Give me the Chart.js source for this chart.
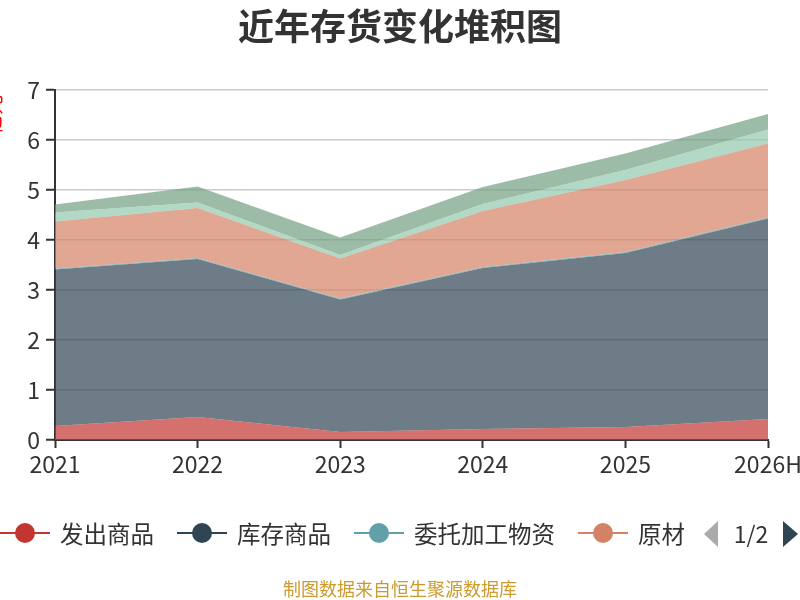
<!DOCTYPE html>
<html>
<head>
<meta charset="utf-8">
<script src="https://cdn.jsdelivr.net/npm/chart.js@4.4.1/dist/chart.umd.min.js"></script>
<style>
  html, body { margin: 0; padding: 0; background: #fff; }
  #wrap { width: 800px; height: 600px; }
</style>
</head>
<body>
<div id="wrap"><canvas id="chart" width="800" height="600"></canvas></div>
<script>
const FONT = '"Noto Sans CJK SC", "Noto Sans", sans-serif';

const years = ['2021', '2022', '2023', '2024', '2025', '2026H'];
const seriesNames = ['发出商品', '库存商品', '委托加工物资', '原材料', '周转材料', '在产品'];
const seriesColors = ['#c23531', '#2f4554', '#61a0a8', '#d48265', '#91c7ae', '#749f83'];

// 亿元
const fachu = [0.28, 0.46, 0.16, 0.22, 0.26, 0.42];
const kucun = [3.13, 3.16, 2.65, 3.22, 3.48, 4.01];
const weituo = [0.02, 0.02, 0.02, 0.02, 0.02, 0.02];
const yuancailiao = [0.94, 1.00, 0.80, 1.12, 1.44, 1.48];
const zhouzhuan = [0.18, 0.11, 0.07, 0.14, 0.20, 0.28];
const zaichan = [0.16, 0.32, 0.35, 0.34, 0.33, 0.31];

const yTicks = [0, 1, 2, 3, 4, 5, 6, 7];

const seriesValues = [fachu, kucun, weituo, yuancailiao, zhouzhuan, zaichan];

function hexAlpha(hex, a) {
  const n = parseInt(hex.slice(1), 16);
  return `rgba(${(n >> 16) & 255}, ${(n >> 8) & 255}, ${n & 255}, ${a})`;
}

const datasets = seriesValues.map((vals, i) => ({
  label: seriesNames[i],
  data: vals,
  borderColor: seriesColors[i],
  backgroundColor: hexAlpha(seriesColors[i], 0.7),
  borderWidth: 0,
  pointRadius: 0,
  pointHoverRadius: 0,
  tension: 0,
  fill: i === 0 ? 'origin' : '-1'
}));

// title, y-axis name, paged legend and footer source line
const decorations = {
  id: 'decorations',
  afterDraw(chart) {
    const ctx = chart.ctx;
    ctx.save();

    ctx.fillStyle = '#333';
    ctx.font = `bold 36px ${FONT}`;
    ctx.textAlign = 'center';
    ctx.textBaseline = 'middle';
    ctx.fillText('近年存货变化堆积图', 400, 26);

    // y axis name, mostly off the left edge
    ctx.save();
    ctx.translate(-7, 115);
    ctx.rotate(-Math.PI / 2);
    ctx.fillStyle = '#ff0000';
    ctx.font = `20px ${FONT}`;
    ctx.fillText('亿元', 0, 0);
    ctx.restore();

    // legend page 1
    ctx.save();
    ctx.beginPath();
    ctx.rect(0, 505, 684, 60);
    ctx.clip();
    ctx.font = `23.5px ${FONT}`;
    ctx.textAlign = 'left';
    const ly = 533;
    let x = 0;
    chart.data.datasets.slice(0, 4).forEach(ds => {
      ctx.strokeStyle = ds.borderColor;
      ctx.lineWidth = 2;
      ctx.beginPath();
      ctx.moveTo(x, ly);
      ctx.lineTo(x + 50, ly);
      ctx.stroke();
      ctx.fillStyle = ds.borderColor;
      ctx.beginPath();
      ctx.arc(x + 25, ly, 10, 0, Math.PI * 2);
      ctx.fill();
      ctx.fillStyle = '#333';
      ctx.fillText(ds.label, x + 60, ly + 1);
      x += 60 + ctx.measureText(ds.label).width + 23;
    });
    ctx.restore();

    // pager
    ctx.fillStyle = '#aaa';
    ctx.beginPath();
    ctx.moveTo(718, 521);
    ctx.lineTo(718, 547);
    ctx.lineTo(704, 534);
    ctx.closePath();
    ctx.fill();
    ctx.fillStyle = '#2f4554';
    ctx.beginPath();
    ctx.moveTo(783, 521);
    ctx.lineTo(783, 547);
    ctx.lineTo(798, 534);
    ctx.closePath();
    ctx.fill();
    ctx.fillStyle = '#333';
    ctx.font = `23px ${FONT}`;
    ctx.textAlign = 'center';
    ctx.fillText('1/2', 751, 534);

    ctx.fillStyle = '#cc9a2e';
    ctx.font = `18px ${FONT}`;
    ctx.fillText('制图数据来自恒生聚源数据库', 400, 589);

    ctx.restore();
  }
};

new Chart(document.getElementById('chart'), {
  type: 'line',
  data: { labels: years, datasets },
  plugins: [decorations],
  options: {
    responsive: false,
    animation: false,
    layout: { padding: { top: 90, right: 32, bottom: 0, left: 0 } },
    plugins: {
      legend: { display: false },
      title: { display: false },
      tooltip: { enabled: false }
    },
    scales: {
      x: {
        offset: false,
        grid: { drawOnChartArea: false, drawTicks: true, tickLength: 8, tickColor: '#333', tickWidth: 2 },
        border: { color: '#333', width: 2 },
        ticks: { color: '#333', font: { family: FONT, size: 23 }, padding: 2, maxRotation: 0, autoSkip: false },
        afterFit(scale) {
          scale.height = 160;
          scale.paddingRight = 0;
        }
      },
      y: {
        stacked: true,
        min: 0,
        max: 7,
        afterBuildTicks(scale) { scale.ticks = yTicks.map(v => ({ value: v })); },
        grid: { color: '#ccc', lineWidth: 1.5, tickLength: 9, tickColor: '#333', tickWidth: 2 },
        border: { color: '#333', width: 2 },
        ticks: { color: '#333', font: { family: FONT, size: 23 }, padding: 6 },
        afterFit(scale) { scale.width = 55; }
      }
    }
  }
});
</script>
</body>
</html>
